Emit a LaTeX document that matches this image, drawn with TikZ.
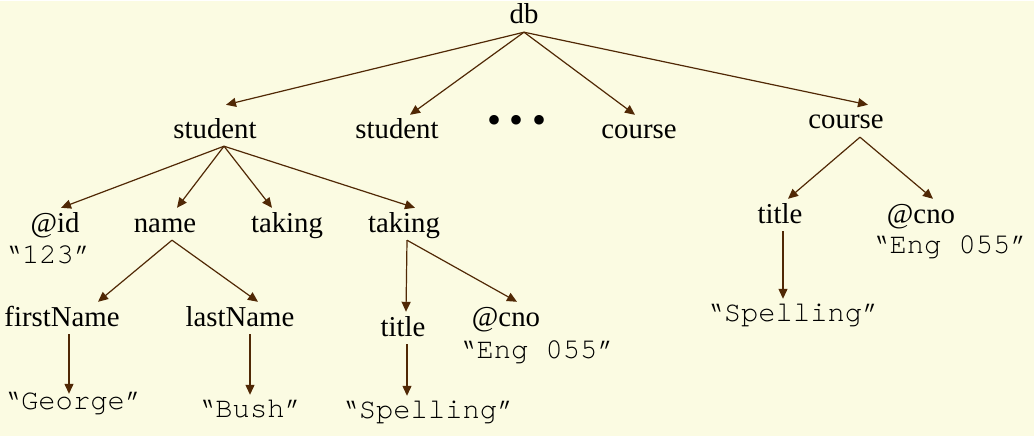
\documentclass[tikz,border=0pt]{standalone}
\usepackage{fontspec}
\setmainfont{Liberation Serif}
\setmonofont{TeX Gyre Cursor}
\usetikzlibrary{arrows.meta}
\definecolor{bgcream}{RGB}{251,251,226}
\definecolor{edgebrown}{RGB}{80,40,5}

\begin{document}
\begin{tikzpicture}[x=1pt,y=-1pt]
\fill[bgcream] (0,0) rectangle (1034,435);
\begin{scope}
\tikzstyle{elem}=[anchor=base, inner sep=0pt, text height=24pt, text depth=8pt, font=\fontsize{28.8}{34}\selectfont]
\tikzstyle{val}=[elem, text height=22pt, font=\fontsize{28.8}{34}\selectfont\ttfamily]
\tikzstyle{edge}=[draw=edgebrown, line width=1.2pt, -{Triangle[length=10pt,width=9pt]}]
% top levels
\node[elem] (db) at (524,23) {db};
\node[elem] (st1) at (215,137) {student};
\node[elem] (st2) at (397,138) {student};
\node[elem, font=\fontsize{40}{44}\selectfont] (dots) at (517,132) {•\hspace{8.5pt}•\hspace{8.5pt}•};
\node[elem] (co1) at (639,138) {course};
\node[elem] (co2) at (846,128) {course};
% children of the first student
\node[elem] (id) at (55,231) {@id};
\node[val] (idv) at (48,262) {“123”};
\node[elem] (nm) at (165,231) {name};
\node[elem] (tk1) at (287,231) {taking};
\node[elem] (tk2) at (404,231) {taking};
\node[elem] (fn) at (62,325) {firstName};
\node[elem] (ln) at (240,325) {lastName};
\node[val] (fnv) at (73,408) {“George”};
\node[val] (lnv) at (250,416) {“Bush”};
\node[elem] (ti1) at (403,335) {title};
\node[elem] (cn1) at (506,325) {@cno};
\node[val] (cn1v) at (537,357) {“Eng 055”};
\node[val] (ti1v) at (428,417) {“Spelling”};
% children of the last course
\node[elem] (ti2) at (780,222) {title};
\node[elem] (cn2) at (921,222) {@cno};
\node[val] (cn2v) at (950,252) {“Eng 055”};
\node[val] (ti2v) at (793,320) {“Spelling”};
% edges
\draw[edge] (db.south) -- ([xshift=11pt,yshift=9pt]st1.north);
\draw[edge] (db.south) -- ([xshift=13pt]st2.north);
\draw[edge] (db.south) -- ([xshift=-4pt]co1.north);
\draw[edge] (db.south) -- ([xshift=22pt]co2.north);
\draw[edge] ([xshift=9pt]st1.south) -- ([xshift=6pt]id.north);
\draw[edge] ([xshift=9pt]st1.south) -- ([xshift=12pt]nm.north);
\draw[edge] ([xshift=9pt]st1.south) -- ([xshift=-15pt]tk1.north);
\draw[edge] ([xshift=9pt]st1.south) -- ([xshift=11pt]tk2.north);
\draw[edge] ([xshift=7pt]nm.south) -- ([xshift=36pt]fn.north);
\draw[edge] ([xshift=7pt]nm.south) -- ([xshift=18pt]ln.north);
\draw[edge] ([xshift=7pt]fn.south) -- ([xshift=-4pt,yshift=-7pt]fnv.north);
\draw[edge] ([xshift=10pt]ln.south) -- (lnv.north);
\draw[edge] ([xshift=3pt]tk2.south) -- ([xshift=3pt]ti1.north);
\draw[edge] ([xshift=3pt]tk2.south) -- ([xshift=11pt]cn1.north);
\draw[edge] ([xshift=4pt]ti1.south) -- ([xshift=-21pt]ti1v.north);
\draw[edge] ([xshift=14pt]co2.south) -- ([xshift=8pt]ti2.north);
\draw[edge] ([xshift=14pt]co2.south) -- ([xshift=12pt]cn2.north);
\draw[edge] ([xshift=3pt]ti2.south) -- ([xshift=-10pt]ti2v.north);
\end{scope}
\end{tikzpicture}
\end{document}
